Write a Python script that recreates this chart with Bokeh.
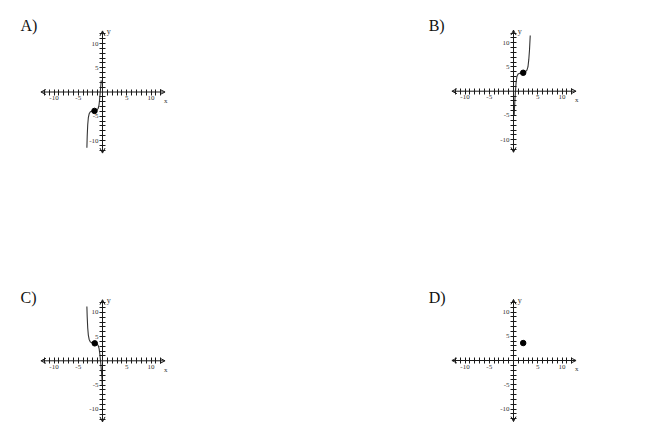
from bokeh.plotting import figure
from bokeh.layouts import column, row
from bokeh.models import LinearAxis, FixedTicker, Arrow, OpenHead, Label
from bokeh.embed import file_html
from bokeh.resources import INLINE

# ---- data ----
panel_letters = ["A)", "B)", "C)", "D)"]
tick_values = [t for t in range(-12, 13) if t != 0]
tick_labeled = [-10, -5, 5, 10]

A_x = [-3.22, -3.15, -3.05, -2.92, -2.75, -2.5, -2.1, -1.65, -1.2, -0.9, -0.72, -0.6, -0.48, -0.35, -0.25]
A_y = [-11.5, -9.0, -6.8, -5.3, -4.5, -4.05, -3.9, -3.85, -3.75, -3.4, -2.7, -1.6, -0.2, 1.3, 2.4]
A_pt = (-1.65, -3.9)

B_x = [0.14, 0.22, 0.3, 0.4, 0.55, 0.72, 0.95, 1.3, 1.7, 2.0, 2.4, 2.75, 2.98, 3.15, 3.3, 3.45]
B_y = [-4.9, -3.2, -1.6, -0.1, 1.95, 3.1, 3.55, 3.7, 3.8, 3.85, 3.95, 4.3, 5.0, 6.5, 8.5, 11.5]
B_pt = (2.0, 3.8)

C_x = [-3.22, -3.15, -3.05, -2.92, -2.75, -2.5, -2.1, -1.65, -1.2, -0.9, -0.7, -0.55, -0.4, -0.25, -0.12, -0.05]
C_y = [11.2, 9.0, 6.8, 5.3, 4.4, 3.9, 3.7, 3.6, 3.5, 3.2, 2.5, 1.4, -0.1, -1.8, -3.5, -5.0]
C_pt = (-1.6, 3.6)

D_x = []
D_y = []
D_pt = (2.0, 3.6)

S = 4.85  # px per unit
INK = "#1a1a1a"


def panel(letter, w, h, ox, oy, lx, ly, cx, cy, pt, ybottom):
    p = figure(width=w, height=h, output_backend="svg", toolbar_location=None,
               x_range=(-ox / S, (w - ox) / S), y_range=(-(h - oy) / S, oy / S),
               x_axis_location=None, y_axis_location=None, min_border=0,
               tools="")
    p.outline_line_color = None
    p.grid.visible = False
    overrides = {t: (str(t) if t in tick_labeled else "") for t in tick_values}
    for side in ("below", "left"):
        ax = LinearAxis(fixed_location=0, bounds=(-12, 12),
                        ticker=FixedTicker(ticks=tick_values),
                        major_label_overrides=overrides,
                        axis_line_color=None,
                        major_tick_in=3, major_tick_out=3,
                        major_tick_line_color=INK, major_tick_line_width=1,
                        minor_tick_line_color=None,
                        major_label_text_font="Liberation Serif",
                        major_label_text_font_size="7px",
                        major_label_text_color="#333333",
                        major_label_standoff=1)
        p.add_layout(ax, side)
    p.add_layout(Arrow(x_start=-12.7, y_start=0, x_end=12.9, y_end=0,
                       start=OpenHead(size=5, line_width=1, line_color=INK),
                       end=OpenHead(size=5, line_width=1, line_color=INK),
                       line_color=INK, line_width=1))
    p.add_layout(Arrow(x_start=0, y_start=ybottom, x_end=0, y_end=12.6,
                       start=OpenHead(size=5, line_width=1, line_color=INK),
                       end=OpenHead(size=5, line_width=1, line_color=INK),
                       line_color=INK, line_width=1))
    p.add_layout(Label(x=12.7, y=-1.0, text="x", text_font="Liberation Serif",
                       text_font_size="7px", text_color="#333333",
                       text_baseline="top", text_align="left"))
    p.add_layout(Label(x=0.9, y=12.4, text="y", text_font="Liberation Serif",
                       text_font_size="8px", text_color="#333333",
                       text_baseline="middle", text_align="left"))
    p.add_layout(Label(x=lx, y=ly, text=letter, text_font="Liberation Serif",
                       text_font_size="16px", text_color="#111111",
                       text_baseline="alphabetic", text_align="left"))
    if cx:
        p.line(cx, cy, line_color="#333333", line_width=1.1)
    p.scatter([pt[0]], [pt[1]], size=5.5, marker="circle",
              fill_color="#000000", line_color="#000000")
    return p


pA = panel(panel_letters[0], 325, 270, 102, 91.5, -16.9, 13.7, A_x, A_y, A_pt, -12.6)
pB = panel(panel_letters[1], 325, 270, 188, 90.7, -17.5, 13.6, B_x, B_y, B_pt, -12.6)
pC = panel(panel_letters[2], 325, 158, 102, 90.3, -16.9, 13.05, C_x, C_y, C_pt, -12.6)
pD = panel(panel_letters[3], 325, 158, 188, 90.0, -17.5, 13.0, D_x, D_y, D_pt, -12.6)

layout = column(row(pA, pB), row(pC, pD))
open("out.html", "w").write(file_html(layout, INLINE))
